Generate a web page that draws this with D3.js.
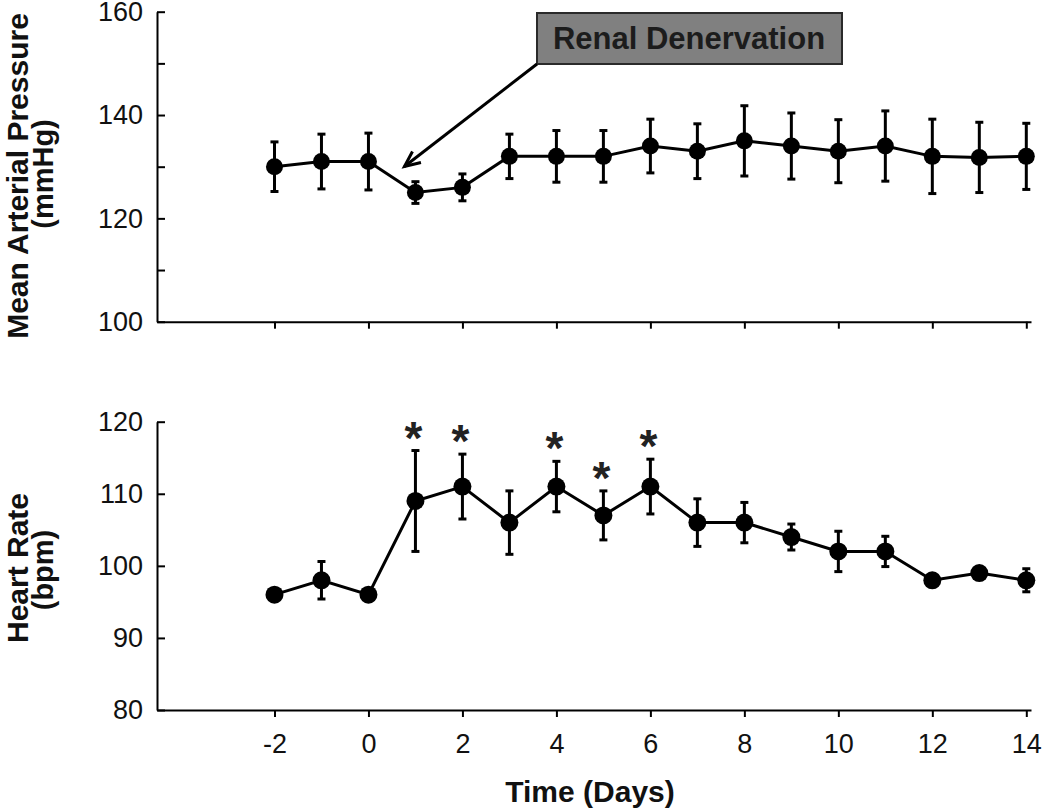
<!DOCTYPE html>
<html><head><meta charset="utf-8">
<script src="https://cdn.jsdelivr.net/npm/d3@7"></script>
<style>
html,body{margin:0;padding:0;background:#fff;}
svg{display:block;font-family:"Liberation Sans",Arial,sans-serif;}
</style></head>
<body>
<svg id="chart" width="1050" height="810"></svg>
<script>
// ---- data ----
const days = [-2,-1,0,1,2,3,4,5,6,7,8,9,10,11,12,13,14];
const mapMean = [130,131,131,125,126,132,132,132,134,133,135,134,133,134,132,131.8,132];
const mapSem  = [4.8,5.3,5.5,2.1,2.6,4.3,5,5,5.2,5.3,6.8,6.4,6.1,6.8,7.2,6.8,6.4];
const hrMean  = [96,98,96,109,111,106,111,107,111,106,106,104,102,102,98,99,98];
const hrSem   = [0.5,2.6,0.5,7,4.5,4.4,3.5,3.4,3.8,3.3,2.8,1.8,2.8,2.1,0.6,0.6,1.6];
const starDays = [1,2,4,5,6];
const xTicks = [-2,0,2,4,6,8,10,12,14];
const mapTicks = [100,110,120,130,140,150,160];
const mapLabels = [100,120,140,160];
const hrTicks = [80,90,100,110,120];
const annotation = "Renal Denervation";

const svg = d3.select("#chart");
const x = d3.scaleLinear().domain([-4.5, 14.1]).range([157, 1031]);
const yMap = d3.scaleLinear().domain([100,160]).range([321.7, 11.7]);
const yHr = d3.scaleLinear().domain([80,120]).range([710, 421.7]);

function styleAxis(g){
  g.selectAll("path.domain").attr("stroke","#000").attr("stroke-width",2);
  g.selectAll(".tick line").attr("stroke","#000").attr("stroke-width",2);
  g.selectAll(".tick text").attr("fill","#111").attr("font-size",27)
    .attr("font-family","'Liberation Sans',Arial,sans-serif");
}

// ---- panel axes ----
svg.append("g").attr("transform","translate(157,0)")
  .call(d3.axisLeft(yMap).tickValues(mapTicks).tickSizeInner(-8).tickSizeOuter(0).tickPadding(14)
    .tickFormat(d => mapLabels.includes(d) ? String(d) : ""))
  .call(styleAxis);
svg.append("g").attr("transform","translate(0,321.7)")
  .call(d3.axisBottom(x).tickValues(xTicks).tickSize(7).tickSizeOuter(0).tickFormat(""))
  .call(styleAxis);
svg.append("g").attr("transform","translate(157,0)")
  .call(d3.axisLeft(yHr).tickValues(hrTicks).tickSizeInner(-8).tickSizeOuter(0).tickPadding(14)
    .tickFormat(d => String(d)))
  .call(styleAxis);
svg.append("g").attr("transform","translate(0,710)")
  .call(d3.axisBottom(x).tickValues(xTicks).tickSize(7).tickSizeOuter(0).tickPadding(17)
    .tickFormat(d => String(d)))
  .call(styleAxis);

// ---- series ----
function drawSeries(mean, sem, y, r){
  const data = days.map((d,i)=>({d, m:mean[i], s:sem[i]}));
  const g = svg.append("g");
  const eb = g.selectAll("g.eb").data(data).enter().append("g");
  eb.append("line").attr("x1",d=>x(d.d)).attr("x2",d=>x(d.d))
    .attr("y1",d=>y(d.m+d.s)).attr("y2",d=>y(d.m-d.s))
    .attr("stroke","#000").attr("stroke-width",3);
  [1,-1].forEach(k=>{
    eb.append("line").attr("x1",d=>x(d.d)-4).attr("x2",d=>x(d.d)+4)
      .attr("y1",d=>y(d.m+k*d.s)).attr("y2",d=>y(d.m+k*d.s))
      .attr("stroke","#000").attr("stroke-width",3);
  });
  g.append("path").datum(data)
    .attr("d", d3.line().x(d=>x(d.d)).y(d=>y(d.m)))
    .attr("fill","none").attr("stroke","#000").attr("stroke-width",3);
  g.selectAll("circle").data(data).enter().append("circle")
    .attr("cx",d=>x(d.d)).attr("cy",d=>y(d.m)).attr("r",r).attr("fill","#000");
  return data;
}
drawSeries(mapMean, mapSem, yMap, 8.5);
const hrData = drawSeries(hrMean, hrSem, yHr, 9);

// stars
svg.append("g").selectAll("text").data(hrData.filter(d=>starDays.includes(d.d)))
  .enter().append("text")
  .attr("x",d=>x(d.d)-2).attr("y",d=>yHr(d.m+d.s)+3)
  .attr("text-anchor","middle").attr("font-size",46).attr("font-weight","bold")
  .attr("fill","#222").text("*");

// ---- annotation ----
svg.append("rect").attr("x",537).attr("y",13).attr("width",305).attr("height",51)
  .attr("fill","#808080").attr("stroke","#2a2a2a").attr("stroke-width",2);
svg.append("text").attr("x",689).attr("y",49).attr("text-anchor","middle")
  .attr("font-size",31).attr("font-weight","bold").attr("fill","#1c1c1c").text(annotation);
const tip = [x(days[3]) - 11, yMap(mapMean[3]) - 26];
const start = [537, 64];
svg.append("line").attr("x1",start[0]).attr("y1",start[1]).attr("x2",tip[0]).attr("y2",tip[1])
  .attr("stroke","#000").attr("stroke-width",3);
{
  const ang = Math.atan2(start[1]-tip[1], start[0]-tip[0]);
  const L = 17, a = 0.42;
  const p = d3.path();
  p.moveTo(tip[0]+L*Math.cos(ang+a), tip[1]+L*Math.sin(ang+a));
  p.lineTo(tip[0], tip[1]);
  p.lineTo(tip[0]+L*Math.cos(ang-a), tip[1]+L*Math.sin(ang-a));
  svg.append("path").attr("d",p.toString()).attr("fill","none")
    .attr("stroke","#000").attr("stroke-width",3);
}

// ---- axis titles ----
function vTitle(cx, cy, txt, fs){
  svg.append("text").attr("transform",`translate(${cx},${cy}) rotate(-90)`)
    .attr("text-anchor","middle").attr("font-size",fs).attr("font-weight","bold")
    .attr("fill","#111").text(txt);
}
vTitle(28, 176, "Mean Arterial Pressure", 30);
vTitle(53, 174, "(mmHg)", 29);
vTitle(28, 568, "Heart Rate", 30);
vTitle(53, 570, "(bpm)", 29);
svg.append("text").attr("x",590).attr("y",802).attr("text-anchor","middle")
  .attr("font-size",30).attr("font-weight","bold").attr("fill","#111").text("Time (Days)");
</script>
</body></html>
